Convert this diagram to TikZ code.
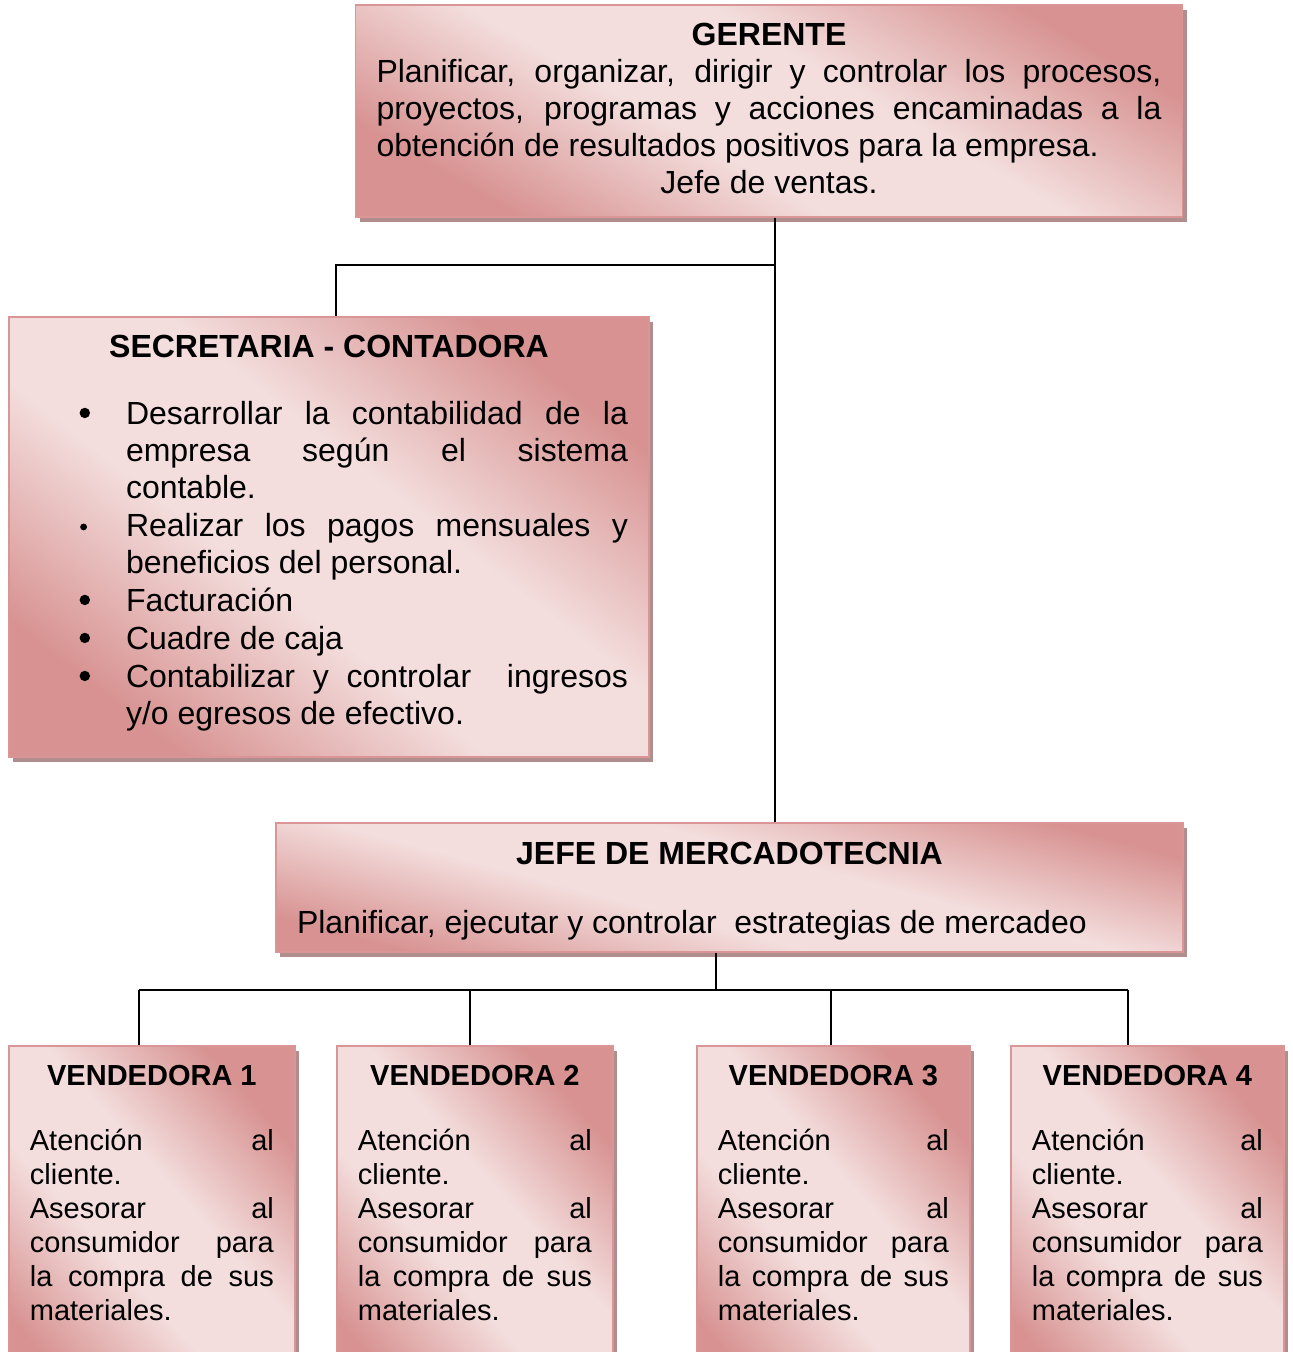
\documentclass[tikz,border=0pt]{standalone}
\usepackage{fontspec}
\setmainfont{Liberation Sans}
\usepackage{enumitem}
\usetikzlibrary{positioning,shadows}
\definecolor{rosaoscuro}{RGB}{215,146,145}
\definecolor{rosaclaro}{RGB}{243,222,221}
\definecolor{rosaborde}{RGB}{218,150,150}
\definecolor{sombra}{RGB}{176,142,142}
\pgfdeclareverticalshading{rosado}{100bp}{%
    color(0bp)=(rosaoscuro); color(25bp)=(rosaoscuro);
    color(43bp)=(rosaclaro); color(57bp)=(rosaclaro);
    color(75bp)=(rosaoscuro); color(100bp)=(rosaoscuro)}
\tolerance=10000
\hbadness=10000
\tikzset{
    caja/.style={%
        draw=rosaborde, line width=0.9pt,
        shading=rosado, shading angle=#1,
        drop shadow={shadow xshift=2pt, shadow yshift=-2.5pt, fill=sombra, opacity=1},
        inner xsep=10.5pt, align=justify,
        font=\fontsize{16}{18.5}\selectfont
    },
    caja/.default=-45,
    vendedora/.style={%
        caja=-48, anchor=north west, text width=#1, inner ysep=9.5pt,
        font=\fontsize{14.5}{17}\selectfont
    },
    linea/.style={line width=1pt}
}
\newcommand{\bolagrande}{\tikz[baseline=-5.7pt]\fill (0,0) circle (2.6pt);}
\newcommand{\bolachica}{\tikz[baseline=-4.7pt]\fill (0,0) circle (1.7pt);}
\newcommand{\relleno}[1]{\par\vspace{#1}\hrule height 0pt}

\begin{document}
\begin{tikzpicture}[x=0.5pt, y=-0.5pt]
    \useasboundingbox (0,0) rectangle (1292,1352);

    % cajas
    \node[caja=-30, text width=392.5pt, minimum height=106pt] (gerente) at (769,111) {%
        {\centering\bfseries GERENTE\par}
        Planificar, organizar, dirigir y controlar los procesos,\linebreak
        proyectos, programas y acciones encaminadas a la\linebreak
        obtención de resultados positivos para la empresa.\par
        {\centering Jefe de ventas.\par}\relleno{2.5pt}};
    \node[caja=-38, text width=299pt, minimum height=220pt] (secretaria) at (329,537) {%
        {\centering\bfseries SECRETARIA - CONTADORA\par}
        \vspace{15pt}
        \begin{itemize}[label=\bolagrande, leftmargin=48pt, labelsep=18pt, topsep=0pt, partopsep=0pt, itemsep=0.5pt, parsep=0pt]
            \item Desarrollar la contabilidad de la\linebreak empresa según el sistema\linebreak contable.
            \item[\bolachica\hspace{1.5pt}] Realizar los pagos mensuales y\linebreak beneficios del personal.
            \item Facturación
            \item Cuadre de caja
            \item Contabilizar y controlar\ \ ingresos\linebreak y/o egresos de efectivo.
        \end{itemize}
        \relleno{4pt}};
    \node[caja=-15, text width=432.5pt, minimum height=64.5pt] (jefe) at (729.5,887.5) {%
        {\centering\bfseries JEFE DE MERCADOTECNIA\par}
        \vspace{16pt}
        Planificar, ejecutar y controlar\ \ estrategias de mercadeo
        \relleno{-4pt}};

    \node[vendedora=122pt] (v1) at (8,1045) {%
        {\centering\bfseries VENDEDORA 1\par}\vspace{15.5pt}
        Atención al\linebreak cliente.\par
        Asesorar al\linebreak consumidor para\linebreak la compra de sus\linebreak materiales.
        \relleno{40pt}};
    \node[vendedora=117pt] (v2) at (336,1045) {%
        {\centering\bfseries VENDEDORA 2\par}\vspace{15.5pt}
        Atención al\linebreak cliente.\par
        Asesorar al\linebreak consumidor para\linebreak la compra de sus\linebreak materiales.
        \relleno{40pt}};
    \node[vendedora=115.5pt] (v3) at (696,1045) {%
        {\centering\bfseries VENDEDORA 3\par}\vspace{15.5pt}
        Atención al\linebreak cliente.\par
        Asesorar al\linebreak consumidor para\linebreak la compra de sus\linebreak materiales.
        \relleno{40pt}};
    \node[vendedora=115.5pt] (v4) at (1010,1045) {%
        {\centering\bfseries VENDEDORA 4\par}\vspace{15.5pt}
        Atención al\linebreak cliente.\par
        Asesorar al\linebreak consumidor para\linebreak la compra de sus\linebreak materiales.
        \relleno{40pt}};

    % lineas
    \coordinate (tronco) at (775,265);
    \coordinate (ramal) at (336,265);
    \draw[linea] (tronco |- gerente.south) -- (tronco |- jefe.north);
    \draw[linea] (tronco) -- (ramal) -- (ramal |- secretaria.north);

    \coordinate (bus) at (716,990);
    \coordinate (b1) at (139,990);
    \coordinate (b2) at (470,990);
    \coordinate (b3) at (831,990);
    \coordinate (b4) at (1128,990);
    \draw[linea] (bus |- jefe.south) -- (bus);
    \draw[linea] (b1) -- (b4);
    \draw[linea] (b1) -- (b1 |- v1.north);
    \draw[linea] (b2) -- (b2 |- v2.north);
    \draw[linea] (b3) -- (b3 |- v3.north);
    \draw[linea] (b4) -- (b4 |- v4.north);
\end{tikzpicture}
\end{document}
